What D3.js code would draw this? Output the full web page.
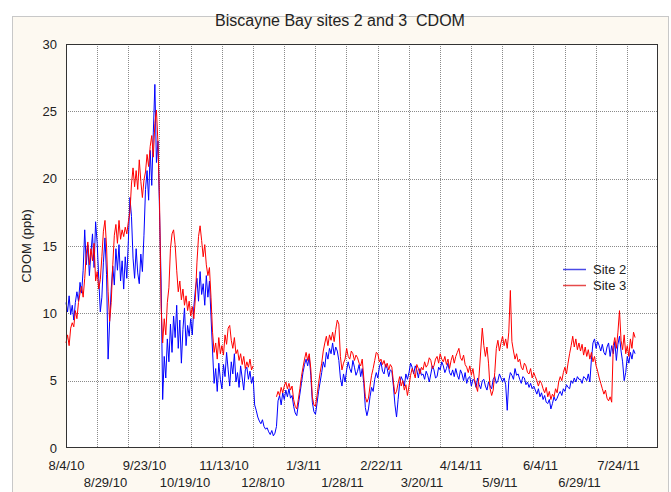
<!DOCTYPE html>
<html>
<head>
<meta charset="utf-8">
<script src="https://cdn.jsdelivr.net/npm/d3@7"></script>
<style>
  body { margin: 0; background: #fff; }
  svg text { font-family: "Liberation Sans", Arial, sans-serif; fill: #222; }
</style>
</head>
<body>
<svg id="chart"></svg>
<script>
// data, one value per day starting at startDate
const startDate = "8/4/10";
const axisDays = 379.7;
const tickDates = ["8/4/10","8/29/10","9/23/10","10/19/10","11/13/10","12/8/10","1/3/11","1/28/11",
                   "2/22/11","3/20/11","4/14/11","5/9/11","6/4/11","6/29/11","7/24/11"];
const yTicks = [0, 5, 10, 15, 20, 25, 30];
const seriesNames = ["Site 2", "Site 3"];

const site2 = [
  10.8,10.1,11.3,9.9,10.6,9.5,10.8,11.6,10.9,12.3,
  11.5,13.2,16.2,13.6,15.1,12.8,14.5,15.9,13.4,16.8,
  15.2,12.6,10.1,11.2,13.8,15.6,12.9,6.6,9.4,11.8,
  13.5,12.1,14.8,13.2,15.1,12.4,13.9,11.8,14.2,12.6,
  15.4,18.6,17.2,14.1,12.6,14.8,13.0,12.2,14.4,13.1,
  15.8,19.2,20.6,18.4,22.1,19.5,23.4,27.0,21.2,22.8,
  17.5,12.4,3.6,6.8,5.2,8.1,6.4,9.2,7.1,9.8,
  8.2,10.6,7.4,9.5,6.3,8.8,10.4,7.6,9.1,8.3,
  9.6,8.4,10.5,11.8,12.6,10.9,13.1,11.4,12.2,10.6,
  12.8,11.2,12.4,9.8,7.2,4.8,5.9,4.2,6.3,5.1,
  4.4,6.2,5.3,7.1,5.8,4.6,6.4,5.5,7.0,4.9,
  5.6,4.5,6.1,5.2,4.3,5.8,6.0,5.1,5.7,4.8,
  5.3,3.2,2.8,2.3,2.0,1.8,2.1,1.6,1.4,1.5,
  1.2,1.0,1.3,0.9,1.1,1.6,3.5,3.9,3.2,4.1,
  3.6,4.3,3.8,4.4,3.7,3.9,3.1,2.6,2.4,3.2,
  4.0,4.8,5.6,6.2,6.6,6.1,6.8,5.4,3.4,2.7,
  2.5,3.3,4.2,4.9,5.6,6.4,6.0,7.1,6.6,7.4,
  7.0,7.8,6.9,7.5,7.2,6.5,5.2,4.6,5.5,4.9,
  5.8,6.4,5.9,5.6,6.5,6.0,5.4,5.7,6.2,5.3,
  5.9,4.8,3.0,2.4,2.9,3.8,4.5,4.2,5.1,5.6,
  5.2,6.0,6.4,5.7,5.5,6.2,5.9,5.3,5.8,5.7,
  4.6,3.2,2.3,3.6,4.8,5.3,5.0,4.6,5.5,5.1,
  5.6,6.3,6.0,5.5,6.1,5.8,5.2,5.9,5.4,5.5,
  5.1,5.7,5.4,4.9,5.5,6.1,5.8,5.2,5.3,6.0,
  5.8,6.4,6.1,5.6,5.9,6.3,5.6,5.4,5.8,5.3,
  5.9,5.4,5.1,5.8,5.5,5.0,5.6,4.8,5.2,5.3,
  4.6,5.1,5.0,4.5,5.2,4.7,4.4,5.0,5.1,4.6,
  4.3,4.9,4.6,4.4,5.1,5.3,4.8,5.0,5.5,5.2,
  4.9,5.2,4.7,2.8,5.0,5.6,5.4,5.1,5.9,5.4,
  5.5,5.1,4.8,5.3,5.2,4.7,4.9,4.5,4.8,4.4,
  4.6,4.3,4.0,4.4,3.8,4.1,3.6,3.9,3.4,3.3,
  3.6,2.9,3.3,3.8,3.5,3.7,4.0,4.2,3.9,4.4,
  4.2,4.7,4.5,4.4,5.0,4.8,5.2,4.9,5.3,5.1,
  5.1,4.8,5.3,5.2,5.0,5.5,4.9,6.6,7.8,8.1,
  7.4,7.9,7.6,7.2,7.7,7.1,6.9,7.5,7.8,6.8,
  7.6,7.0,7.9,6.5,7.7,8.3,7.2,6.4,5.0,5.6,
  6.8,6.3,7.1,6.6,7.3,7.0
];

const site3 = [
  7.8,8.4,7.6,8.9,9.3,9.0,10.2,9.6,10.8,11.5,
  12.0,11.2,12.6,14.4,15.3,13.6,14.8,13.9,15.2,12.4,
  13.1,11.8,12.5,14.2,16.1,16.9,15.0,11.6,9.4,10.8,
  13.6,15.8,16.6,15.2,16.9,15.5,16.2,15.7,16.4,15.9,
  16.8,17.5,19.6,20.8,19.4,20.6,19.2,21.4,19.8,18.6,
  19.9,20.5,21.8,20.9,22.4,23.2,21.6,24.1,25.1,22.6,
  18.2,10.5,7.8,9.6,8.4,10.8,11.9,14.8,15.9,16.2,
  15.1,13.2,11.6,12.4,11.0,11.8,10.6,11.3,10.2,10.9,
  9.8,10.5,9.6,11.2,13.8,15.7,16.5,15.4,14.2,15.1,
  13.6,12.8,13.4,11.2,8.6,7.1,7.8,6.6,8.2,7.0,
  7.6,6.9,8.4,7.7,8.9,9.1,8.0,7.4,8.2,7.0,
  7.3,6.5,7.0,6.2,6.8,5.9,6.4,6.0,6.6,5.8,
  6.1,null,null,null,null,null,null,null,null,null,
  null,null,null,null,null,3.8,4.2,3.9,4.5,4.1,
  4.6,4.9,4.4,4.8,4.3,4.6,3.6,3.1,2.9,3.6,
  4.4,5.3,6.0,6.6,7.1,6.5,7.0,5.9,3.8,3.2,
  3.1,3.9,4.8,5.6,6.3,7.2,7.8,8.3,7.6,8.4,
  8.0,8.6,7.9,8.8,9.5,9.2,6.8,5.8,6.3,6.6,
  7.4,6.8,6.6,7.2,7.0,6.5,6.9,6.7,6.3,6.1,
  6.6,5.2,3.8,3.4,3.7,4.6,5.4,5.9,6.5,7.1,
  7.0,6.4,6.6,6.2,6.5,6.0,6.3,5.8,6.2,6.0,
  4.9,4.0,4.2,4.8,5.3,4.6,5.0,4.3,4.7,3.9,
  4.6,5.4,5.9,5.6,5.2,6.2,5.9,5.5,6.0,5.8,
  6.4,6.0,6.2,6.7,6.5,5.9,6.1,6.6,6.8,6.3,
  7.0,6.6,6.4,6.8,6.2,6.6,5.9,6.5,6.9,6.3,
  6.8,7.1,7.4,6.7,6.5,6.9,6.2,6.0,5.6,6.1,
  5.4,5.9,5.1,4.6,4.2,5.5,7.2,8.9,7.6,6.8,
  7.5,6.3,4.4,3.9,4.3,5.6,7.4,8.0,7.2,7.8,
  8.3,7.6,8.1,7.4,8.6,11.7,7.9,7.2,6.6,7.0,
  6.4,6.6,6.0,5.8,6.3,6.1,5.6,5.5,5.9,5.2,
  5.6,5.3,5.0,4.6,5.0,4.8,4.4,4.1,4.5,3.8,
  4.2,3.6,4.0,3.8,4.4,4.1,4.9,5.3,5.0,5.6,
  6.0,5.5,6.3,7.0,7.6,8.3,7.5,8.1,7.3,7.8,
  7.2,7.7,6.9,7.5,6.8,7.3,6.6,7.1,6.4,6.8,
  6.1,5.7,5.2,4.8,4.4,4.0,4.3,3.7,3.5,3.8,
  3.4,7.6,8.2,7.4,8.6,10.2,8.0,7.3,8.4,7.0,
  7.6,6.8,8.1,7.4,8.6,8.2
];

const width = 671;
const height = 492;
const margin = { top: 44, left: 66, bottom: 44, right: 13 };
const plotRight = width - margin.right;
const plotBottom = height - margin.bottom;

const parseDate = d3.timeParse("%m/%d/%y");
const day0 = parseDate(startDate);
const tickDays = tickDates.map(d => d3.timeDay.count(day0, parseDate(d)));

let svg = d3.select("#chart")
            .attr("width", width)
            .attr("height", height);

// outer frame
svg.append("rect")
   .attr("x", 12.5).attr("y", 16.5)
   .attr("width", 656).attr("height", 490)
   .attr("fill", "#fdf9f1")
   .attr("stroke", "#c8c8c8");

// scales
let xScale = d3.scaleLinear().domain([0, axisDays]).range([margin.left, plotRight]);
let yScale = d3.scaleLinear().domain([0, 30]).range([plotBottom, margin.top]);

// plot background
svg.append("rect")
   .attr("x", margin.left).attr("y", margin.top)
   .attr("width", plotRight - margin.left).attr("height", plotBottom - margin.top)
   .attr("fill", "#fff");

// grid
let grid = svg.append("g")
              .attr("stroke", "#8a8a8a")
              .attr("stroke-dasharray", "1,1")
              .attr("stroke-width", 1);

grid.selectAll(".vgrid")
    .data(d3.range(1, 19))
    .enter()
    .append("line")
      .attr("x1", i => Math.round(margin.left + i * (plotRight - margin.left) / 19) + 0.5)
      .attr("x2", i => Math.round(margin.left + i * (plotRight - margin.left) / 19) + 0.5)
      .attr("y1", margin.top)
      .attr("y2", plotBottom);

grid.selectAll(".hgrid")
    .data(yTicks.slice(1, -1))
    .enter()
    .append("line")
      .attr("x1", margin.left)
      .attr("x2", plotRight)
      .attr("y1", d => Math.round(yScale(d)) + 0.5)
      .attr("y2", d => Math.round(yScale(d)) + 0.5);

// lines
let line = d3.line()
             .defined(d => d != null)
             .x((d, i) => xScale(i))
             .y(d => yScale(d));

svg.append("path")
   .datum(site2)
   .attr("fill", "none")
   .attr("stroke", "#0000ff")
   .attr("stroke-width", 1)
   .attr("d", line);

svg.append("path")
   .datum(site3)
   .attr("fill", "none")
   .attr("stroke", "#ff0000")
   .attr("stroke-width", 1)
   .attr("d", line);

// plot border
svg.append("rect")
   .attr("x", margin.left + 0.5).attr("y", margin.top + 0.5)
   .attr("width", plotRight - margin.left - 1).attr("height", plotBottom - margin.top - 1)
   .attr("fill", "none")
   .attr("stroke", "#333");

// axes
let xAxis = d3.axisBottom(xScale)
              .tickValues(tickDays)
              .tickFormat((d, i) => tickDates[i])
              .tickSize(0)
              .tickPadding(0);

let gx = svg.append("g")
            .attr("transform", `translate(0,${plotBottom})`)
            .call(xAxis);
gx.select(".domain").remove();
gx.selectAll("text")
  .attr("font-size", 13)
  .attr("font-family", null)
  .attr("fill", "#222")
  .attr("dy", null)
  .attr("y", (d, i) => i % 2 === 0 ? 22 : 39);

let yAxis = d3.axisLeft(yScale)
              .tickValues(yTicks)
              .tickSize(0)
              .tickPadding(9);

let gy = svg.append("g")
            .attr("transform", `translate(${margin.left},0)`)
            .call(yAxis);
gy.select(".domain").remove();
gy.selectAll("text")
  .attr("font-size", 13)
  .attr("font-family", null)
  .attr("fill", "#222");

// titles
svg.append("text")
   .attr("x", 340)
   .attr("y", 26)
   .attr("text-anchor", "middle")
   .style("font-size", "16px")
   .style("white-space", "pre")
   .text("Biscayne Bay sites 2 and 3  CDOM");

svg.append("text")
   .attr("transform", `translate(31,${(margin.top + plotBottom) / 2}) rotate(-90)`)
   .attr("text-anchor", "middle")
   .style("font-size", "13px")
   .text("CDOM (ppb)");

// legend
let legend = svg.append("g").attr("transform", "translate(563,269)");
[["#4a4ae6", 0], ["#e64a4a", 16]].forEach((c, i) => {
  legend.append("line")
        .attr("x1", 0).attr("x2", 23)
        .attr("y1", c[1] + 0.5).attr("y2", c[1] + 0.5)
        .style("stroke", c[0])
        .style("stroke-width", 1.5);
  legend.append("text")
        .attr("x", 30).attr("y", c[1] + 5)
        .style("font-size", "13px")
        .text(seriesNames[i]);
});
</script>
</body>
</html>
